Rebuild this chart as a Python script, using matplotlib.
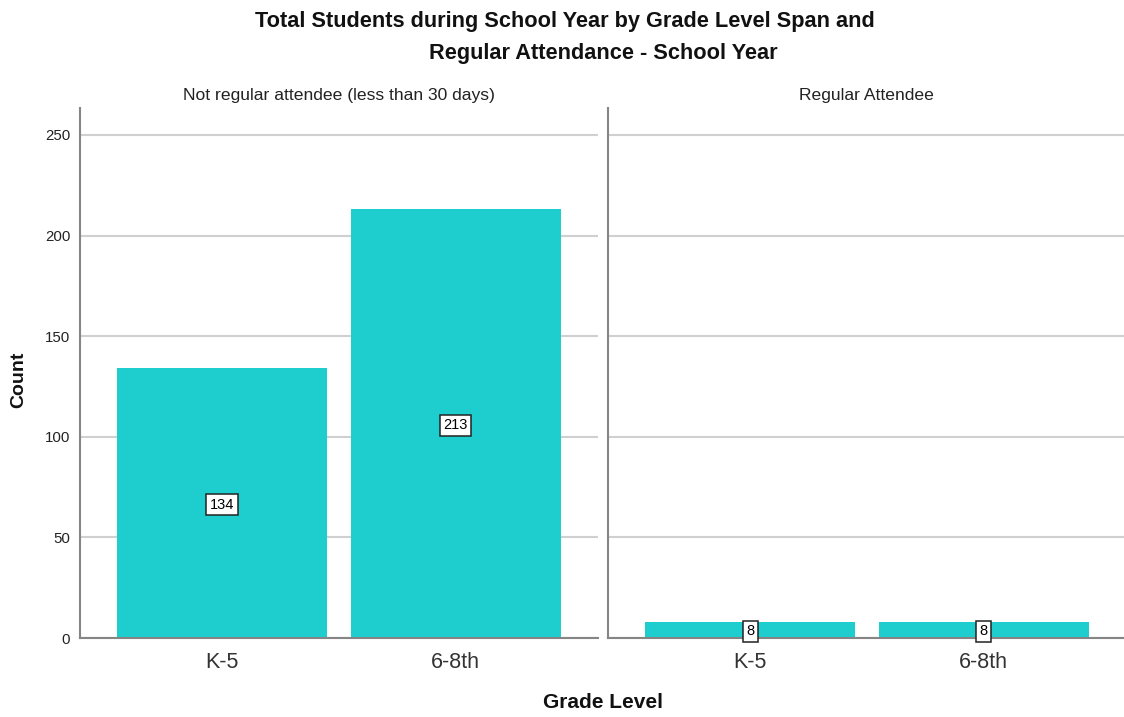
import matplotlib
matplotlib.use("Agg")
import matplotlib.pyplot as plt

# Data
grade_levels = ["K-5", "6-8th"]
panels = ["Not regular attendee (less than 30 days)", "Regular Attendee"]
not_regular_counts = [134, 213]
regular_counts = [8, 8]
y_ticks = [0, 50, 100, 150, 200, 250]

plt.rcParams["font.family"] = ["Liberation Sans", "DejaVu Sans"]

BAR_COLOR = "#1ecece"
GRID_COLOR = "#d0d0d0"
SPINE_COLOR = "#858585"

W, H = 1124, 717
fig = plt.figure(figsize=(W / 100, H / 100), dpi=100)


def px_axes(x0, x1, y_top, y_bot):
    return fig.add_axes([x0 / W, 1 - y_bot / H, (x1 - x0) / W, (y_bot - y_top) / H])


ax_left = px_axes(80, 598, 108, 638)
ax_right = px_axes(608, 1126, 108, 638)

x = list(range(len(grade_levels)))
for ax, counts in [(ax_left, not_regular_counts), (ax_right, regular_counts)]:
    ax.set_xlim(-0.61, 1.61)
    ax.set_ylim(0, 263.4)
    ax.set_axisbelow(True)
    ax.yaxis.grid(True, color=GRID_COLOR, linewidth=1.5)
    ax.bar(x, counts, width=0.9, color=BAR_COLOR, zorder=2)
    for xi, v in zip(x, counts):
        ax.text(xi, v / 2, str(v), ha="center", va="center_baseline", fontsize=10.5,
                zorder=4,
                bbox=dict(boxstyle="square,pad=0.25", facecolor="white",
                          edgecolor="#222222", linewidth=1.1))
    ax.set_xticks(x)
    ax.set_xticklabels(grade_levels, fontsize=15.5, color="#333333")
    ax.set_yticks(y_ticks)
    ax.tick_params(axis="both", length=0)
    ax.tick_params(axis="x", pad=10)
    ax.tick_params(axis="y", pad=7, labelsize=10.8, labelcolor="#222222")
    for side in ["top", "right"]:
        ax.spines[side].set_visible(False)
    for side in ["left", "bottom"]:
        ax.spines[side].set_color(SPINE_COLOR)
        ax.spines[side].set_linewidth(1.5)

ax_left.set_title(panels[0], fontsize=12.6, color="#222222", pad=6)
ax_right.set_yticklabels([])
ax_right.set_title(panels[1], fontsize=12.6, color="#222222", pad=6, x=(866 - 608) / 518)

fig.text(565 / W, 1 - 22 / H, "Total Students during School Year by Grade Level Span and",
         ha="center", va="center", fontsize=15.7, fontweight="bold", color="#111111")
fig.text(603 / W, 1 - 54 / H, "Regular Attendance - School Year",
         ha="center", va="center", fontsize=15.7, fontweight="bold", color="#111111")
fig.text(603 / W, 1 - 703 / H, "Grade Level", ha="center", va="center",
         fontsize=15, fontweight="bold", color="#111111")
fig.text(19 / W, 1 - 380 / H, "Count", ha="center", va="center", rotation=90,
         fontsize=14, fontweight="bold", color="#111111")

fig.savefig("out.png", dpi=100, facecolor="white")
